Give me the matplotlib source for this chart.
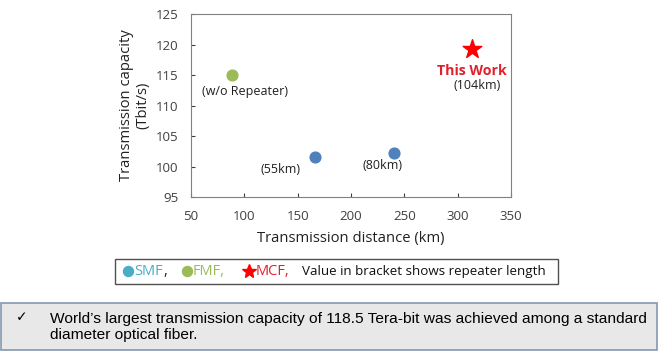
import matplotlib
matplotlib.use("Agg")
import matplotlib.pyplot as plt
from matplotlib.patches import Rectangle
from matplotlib.lines import Line2D

# Data
smf_x = [166, 240]
smf_y = [101.6, 102.2]
smf_labels = ["(55km)", "(80km)"]
fmf_x = [88]
fmf_y = [115.0]
fmf_labels = ["(w/o Repeater)"]
mcf_x = [313]
mcf_y = [119.2]
mcf_labels = ["(104km)"]
x_ticks = [50, 100, 150, 200, 250, 300, 350]
y_ticks = [95, 100, 105, 110, 115, 120, 125]

plt.rcParams['font.family'] = ['Open Sans', 'DejaVu Sans']

fig = plt.figure(figsize=(6.58, 3.53), dpi=100)
fig.patch.set_facecolor('white')
ax = fig.add_axes([0.2903, 0.4419, 0.4863, 0.5184])

ax.scatter(smf_x, smf_y, s=60, color='#4f81bd', zorder=3)
ax.scatter(fmf_x, fmf_y, s=60, color='#9bbb59', zorder=3)
ax.scatter(mcf_x, mcf_y, s=200, marker='*', color='#ff0000', zorder=3)

ax.set_xlim(50, 350)
ax.set_ylim(95, 125)
ax.set_xticks(x_ticks)
ax.set_yticks(y_ticks)
ax.tick_params(labelsize=9.5, length=3, direction='in', colors='#404040')
ax.tick_params(axis='y', pad=9)
ax.tick_params(axis='x', pad=9)
for s in ax.spines.values():
    s.set_color('#808080')
    s.set_linewidth(0.8)

ax.set_xlabel("Transmission distance (km)", fontsize=10.6, color='#202020', labelpad=6)
ax.set_ylabel("Transmission capacity\n(Tbit/s)", fontsize=10.6, color='#202020', labelpad=4,
              linespacing=1.15)

# annotations
ax.annotate(fmf_labels[0], (fmf_x[0], fmf_y[0]), xytext=(9.4, -12.2), textcoords='offset points',
            ha='center', va='center', fontsize=9, color='#202020')
ax.annotate(smf_labels[0], (smf_x[0], smf_y[0]), xytext=(-24.5, -9.4), textcoords='offset points',
            ha='center', va='center', fontsize=9, color='#202020')
ax.annotate(smf_labels[1], (smf_x[1], smf_y[1]), xytext=(-7.9, -8.6), textcoords='offset points',
            ha='center', va='center', fontsize=9, color='#202020')
ax.annotate("This Work", (mcf_x[0], mcf_y[0]), xytext=(0, -15.8), textcoords='offset points',
            ha='center', va='center', fontsize=10.2, color='#e0202a', fontweight='bold')
ax.annotate(mcf_labels[0], (mcf_x[0], mcf_y[0]), xytext=(4.3, -26), textcoords='offset points',
            ha='center', va='center', fontsize=9, color='#202020')

# legend box
fig.patches.append(Rectangle((115/658, 1-284/353), 443/658, 25/353, transform=fig.transFigure,
                             facecolor='white', edgecolor='#505050', linewidth=1.0))
ly = 1-271.5/353
for mx, mk, col, ms in [(128, 'o', '#4bacc6', 7.2), (187, 'o', '#9bbb59', 7.2),
                        (249, '*', '#ff0000', 10)]:
    fig.add_artist(Line2D([mx/658], [ly + 1/353], marker=mk, color=col, markersize=ms,
                          linestyle='none', transform=fig.transFigure))
fig.text(134/658, ly, "SMF", color='#4bacc6', fontsize=10.5, ha='left', va='center')
fig.text(163.5/658, ly, ",", color='#202020', fontsize=10.5, ha='left', va='center')
fig.text(193/658, ly, "FMF,", color='#9bbb59', fontsize=10.5, ha='left', va='center')
fig.text(256/658, ly, "MCF,", color='#e0202a', fontsize=10.5, ha='left', va='center')
fig.text(302/658, ly, "Value in bracket shows repeater length", color='#101010',
         fontsize=9.6, ha='left', va='center')

# bottom box
fig.patches.append(Rectangle((1/658, 1-350/353), 656/658, 47/353, transform=fig.transFigure,
                             facecolor='#e8e8e8', edgecolor='#8497b0', linewidth=1.2))
fig.text(16/658, 1-317/353, "✓", fontsize=10, ha='left', va='center', color='#000000',
         family=['DejaVu Sans'])
fig.text(50/658, 1-327/353,
         "World’s largest transmission capacity of 118.5 Tera-bit was achieved among a standard\ndiameter optical fiber.",
         fontsize=11.15, ha='left', va='center', color='#000000', family=['Liberation Sans'],
         linespacing=1.15)

fig.savefig("out.png", dpi=100)
